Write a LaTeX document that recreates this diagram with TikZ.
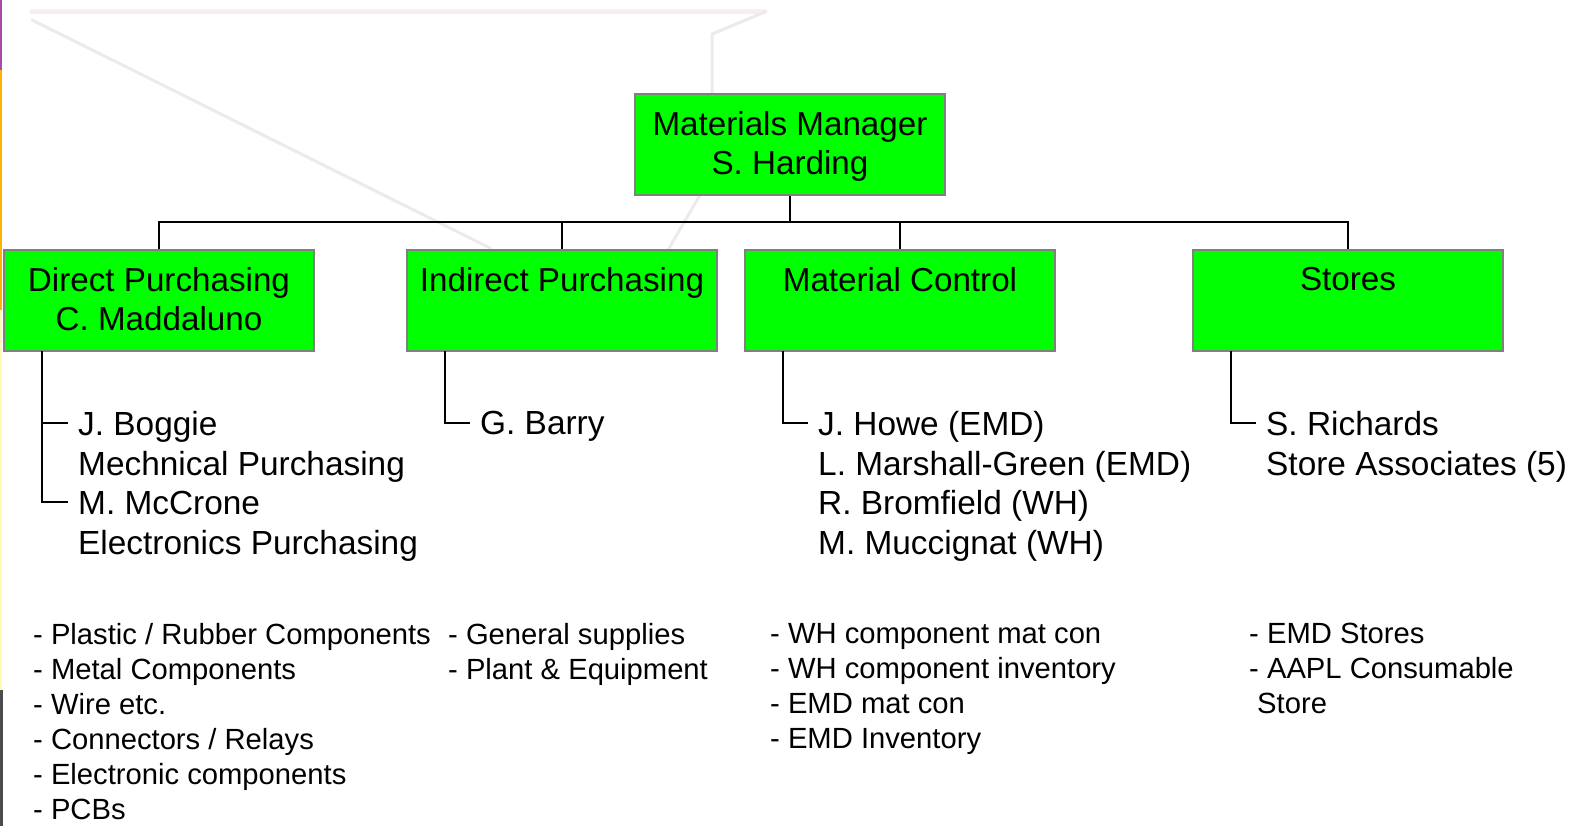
\documentclass[tikz,border=0pt]{standalone}
\usepackage{fontspec}
\setmainfont{Liberation Sans}
\definecolor{boxgreen}{RGB}{0,255,0}
\definecolor{boxgray}{RGB}{128,128,128}
\definecolor{faintpink}{RGB}{246,238,241}
\definecolor{faintgray}{RGB}{238,234,236}
\begin{document}
\begin{tikzpicture}[x=1pt,y=-1pt,
  box/.style={draw=boxgray, line width=2pt, fill=boxgreen, minimum width=310pt, minimum height=101pt, inner sep=0pt},
  boxtext/.style={inner sep=0pt, align=center, anchor=north, font=\fontsize{33.2}{39}\selectfont},
  people/.style={inner sep=0pt, align=left, anchor=north west, font=\fontsize{33.4}{39.7}\selectfont},
  duties/.style={inner sep=0pt, align=left, anchor=north west, font=\fontsize{29.2}{35}\selectfont},
  conn/.style={draw=black, line width=2pt},
  faint/.style={draw=faintgray, line width=3pt, line join=round, line cap=round}]
\useasboundingbox (0,0) rectangle (1571,826);
\fill[white] (0,0) rectangle (1571,826);
% faint background strokes
\draw[faint, draw=faintpink, line width=5pt] (32,12) -- (765,12);
\draw[faint] (32,20) -- (490,248);
\draw[faint] (765,12) -- (712,34) -- (712,95) -- (700,195) -- (668,250);
% left edge stripe
\fill[violet!70] (0,0) rectangle (2,70);
\fill[orange!60!yellow] (0,70) rectangle (2,310);
\fill[yellow!30] (0,310) rectangle (2,690);
\fill[black!70] (0,690) rectangle (3,826);
% boxes
\node[box] (mm) at (790,145) {};
\node[box] (dp) at (159,300.5) {};
\node[box] (ip) at (562,300.5) {};
\node[box] (mc) at (900,300.5) {};
\node[box] (st) at (1348,300.5) {};
\node[boxtext] (mmt) at ([yshift=-18pt]mm.north) {Materials Manager\\S. Harding};
\node[boxtext] (dpt) at ([yshift=-18pt]dp.north) {Direct Purchasing\\C. Maddaluno};
\node[boxtext] (ipt) at ([yshift=-18pt]ip.north) {Indirect Purchasing};
\node[boxtext] (mct) at ([yshift=-18pt]mc.north) {Material Control};
\node[boxtext] (stt) at ([yshift=-18pt]st.north) {Stores};
% tree connectors
\coordinate (bus) at (790,222);
\draw[conn] (mm.south) -- (bus);
\draw[conn] (dp.north) -- (dp.north |- bus) -- (st.north |- bus) -- (st.north);
\draw[conn] (ip.north) -- (ip.north |- bus);
\draw[conn] (mc.north) -- (mc.north |- bus);
% people
\node[people] (dpp) at (78,411) {J. Boggie\\Mechnical Purchasing\\M. McCrone\\Electronics Purchasing};
\node[people] (ipp) at (480,411) {G. Barry};
\node[people] (mcp) at (818,411) {J. Howe (EMD)\\L. Marshall-Green (EMD)\\R. Bromfield (WH)\\M. Muccignat (WH)};
\node[people] (stp) at (1266,411) {S. Richards\\Store Associates (5)};
\coordinate (dpk) at (42,351);
\coordinate (dpk1) at (68,423);
\coordinate (dpk2) at (68,502);
\draw[conn] (dpk) |- (dpk2);
\draw[conn] (dpk |- dpk1) -- (dpk1);
\coordinate (ipk) at (445,351);
\coordinate (ipk1) at (470,423);
\draw[conn] (ipk) |- (ipk1);
\coordinate (mck) at (783,351);
\coordinate (mck1) at (808,423);
\draw[conn] (mck) |- (mck1);
\coordinate (stk) at (1231,351);
\coordinate (stk1) at (1256,423);
\draw[conn] (stk) |- (stk1);
% duties
\node[duties] (dpd) at (33,623) {- Plastic / Rubber Components\\- Metal Components\\- Wire etc.\\- Connectors / Relays\\- Electronic components\\- PCBs};
\node[duties] (ipd) at (448,623) {- General supplies\\- Plant \& Equipment};
\node[duties] (mcd) at (770,623) {- WH component mat con\\- WH component inventory\\- EMD mat con\\- EMD Inventory};
\node[duties] (std) at (1249,623) {- EMD Stores\\- AAPL Consumable\\\hspace*{8pt}Store};
\end{tikzpicture}
\end{document}
